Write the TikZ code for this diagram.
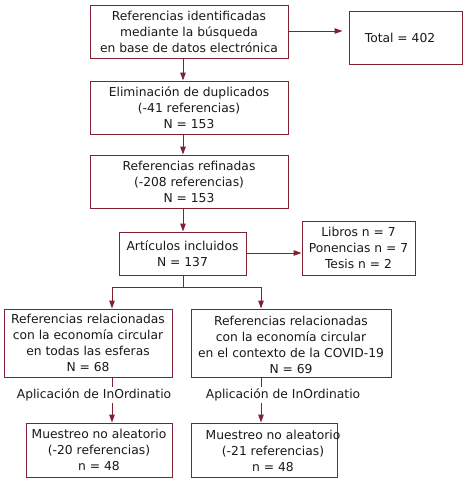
\documentclass[tikz,border=0pt]{standalone}
\usepackage{fontspec}
\setmainfont{DejaVu Sans}
\usetikzlibrary{arrows.meta,positioning}
\definecolor{lc}{RGB}{128,32,48}
\definecolor{tc}{RGB}{25,25,25}
\begin{document}
\begin{tikzpicture}[x=1pt,y=-1pt,
  box/.style={draw=lc,line width=1pt,rectangle,inner sep=0pt,align=center,text=tc,font=\fontsize{12.3}{16}\selectfont},
  txt/.style={inner sep=0pt,align=center,text=tc,font=\fontsize{12.3}{16}\selectfont},
  conn/.style={draw=lc,line width=1pt},
  arr/.style={conn,-{Triangle[length=8pt,width=5.5pt]}}]
\useasboundingbox (0,0) rectangle (471,482);
\fill[white] (0,0) rectangle (471,482);
% boxes
\node[box,minimum width=198,minimum height=53] (b1) at (189,31.5) {Referencias identificadas\\mediante la búsqueda\\en base de datos electrónica};
\node[box,minimum width=113,minimum height=53] (tot) at (405.5,38.3) {};
\node[txt] (tott) at (400,38.3) {Total = 402};
\node[box,minimum width=198,minimum height=53] (b2) at (189,107.5) {Eliminación de duplicados\\(-41 referencias)\\N = 153};
\node[box,minimum width=198,minimum height=53] (b3) at (189,181.5) {Referencias refinadas\\(-208 referencias)\\N = 153};
\node[box,minimum width=127,minimum height=43] (b4) at (182.5,253.5) {Artículos incluidos\\N = 137};
\node[box,minimum width=113,minimum height=54] (lib) at (358.5,248) {Libros n = 7\\Ponencias n = 7\\Tesis n = 2};
\node[box,minimum width=168,minimum height=68] (b5) at (88,343) {Referencias relacionadas\\con la economía circular\\en todas las esferas\\N = 68};
\node[box,minimum width=200,minimum height=68] (b6) at (291,343) {};
\node[txt] (b6t) at (291,345) {Referencias relacionadas\\con la economía circular\\en el contexto de la COVID-19\\N = 69};
\node[box,minimum width=146,minimum height=54] (b7) at (99,450) {Muestreo no aleatorio\\(-20 referencias)\\n = 48};
\node[box,minimum width=146,minimum height=54] (b8) at (264,450) {};
\node[txt] (b8t) at (273,451) {Muestreo no aleatorio\\(-21 referencias)\\n = 48};
% labels
\node[txt,minimum height=16] (l1) at (94,395) {Aplicación de InOrdinatio};
\node[txt,minimum height=16] (l2) at (283,395) {Aplicación de InOrdinatio};
% coordinates
\coordinate (xa) at (183,0);
\coordinate (xl) at (112,0);
\coordinate (xr) at (261,0);
\coordinate (br) at (183,287);
% connectors
\draw[arr] (b1.south -| xa) -- (b2.north -| xa);
\draw[arr] (b2.south -| xa) -- (b3.north -| xa);
\draw[arr] (b3.south -| xa) -- (b4.north -| xa);
\draw[arr,shorten >=6pt] (b1.east |- 0,31) -- (tot.west |- 0,31);
\draw[arr] (b4.east |- 0,253) -- (lib.west |- 0,253);
\draw[conn] (b4.south -| xa) -- (br);
\draw[arr] (br) -| (b5.north -| xl);
\draw[arr] (br) -| (b6.north -| xr);
\draw[conn] (b5.south -| xl) -- (l1.north -| xl);
\draw[arr] (l1.south -| xl) -- (b7.north -| xl);
\draw[conn] (b6.south -| xr) -- (l2.north -| xr);
\draw[arr] (l2.south -| xr) -- (b8.north -| xr);
\end{tikzpicture}
\end{document}
